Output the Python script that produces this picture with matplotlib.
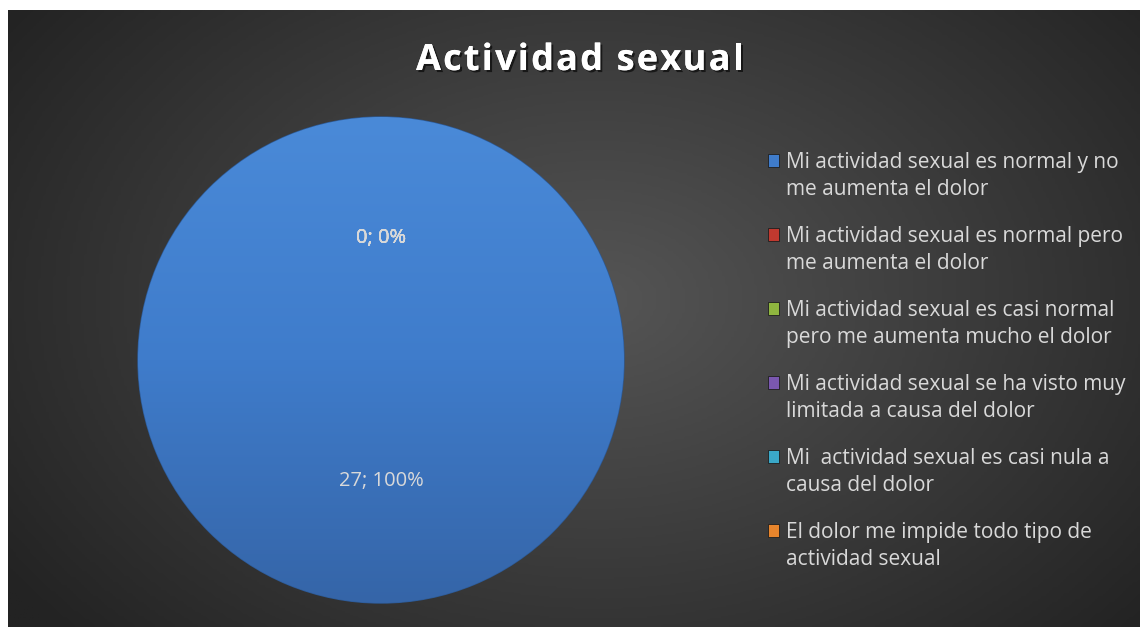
import numpy as np
import matplotlib.pyplot as plt
from matplotlib import patheffects
from matplotlib.patches import Rectangle
from matplotlib.colors import LinearSegmentedColormap

# data
categories = [
    'Mi actividad sexual es normal y no\nme aumenta el dolor',
    'Mi actividad sexual es normal pero\nme aumenta el dolor',
    'Mi actividad sexual es casi normal\npero me aumenta mucho el dolor',
    'Mi actividad sexual se ha visto muy\nlimitada a causa del dolor',
    'Mi  actividad sexual es casi nula a\ncausa del dolor',
    'El dolor me impide todo tipo de\nactividad sexual',
]
counts = [27, 0, 0, 0, 0, 0]
colors = ['#3f7ccb', '#c0392f', '#8fb63f', '#7a57b0', '#3aa8c8', '#e8852c']
title = 'Actividad sexual'

W, H = 1140, 627
plt.rcParams['font.family'] = ['Open Sans', 'DejaVu Sans']
fig = plt.figure(figsize=(W / 100, H / 100), dpi=100)
fig.patch.set_facecolor('white')

# background with radial gradient
bg = fig.add_axes([8 / W, 0, (W - 8) / W, (H - 10) / H])
bg.set_axis_off()
xx, yy = np.meshgrid(np.linspace(0, 1132, 400), np.linspace(0, 617, 220))
d = np.sqrt(((xx - 590) / 720) ** 2 + ((yy - 290) / 500) ** 2)
d = np.clip(d, 0, 1)
bg_cmap = LinearSegmentedColormap.from_list('bg', ['#555555', '#3c3c3c', '#232323'])
bg.imshow(d, cmap=bg_cmap, extent=[0, 1, 0, 1], origin='upper', aspect='auto', vmin=0, vmax=1)
bg.set_xlim(0, 1)
bg.set_ylim(0, 1)

# pie
r = 243
cx, cy = 381, H - 360
ax = fig.add_axes([(cx - r) / W, (cy - r) / H, 2 * r / W, 2 * r / H])
total = sum(counts)


def fmt(pct):
    return f'{int(round(pct * total / 100))}; {pct:.0f}%'


wedges, texts, autotexts = ax.pie(counts, colors=colors, startangle=90, counterclock=False,
                                  autopct=fmt, pctdistance=0.5,
                                  wedgeprops=dict(edgecolor='#2d5a96', linewidth=1.0),
                                  textprops=dict(color='#d9d9d9', fontsize=14.5))
ax.set_xlim(-1, 1)
ax.set_ylim(-1, 1)

# vertical shading on the main wedge
grad = np.linspace(0, 1, 256).reshape(-1, 1)
pie_cmap = LinearSegmentedColormap.from_list('pie', ['#4a8ad8', '#3f7ccb', '#3565a8'])
im = ax.imshow(grad, cmap=pie_cmap, extent=[-1, 1, -1, 1], origin='upper', aspect='auto', zorder=1.5)
im.set_clip_path(wedges[0])
for t in autotexts:
    t.set_zorder(5)

# title, drawn letter by letter to get the wide tracking
renderer = fig.canvas.get_renderer()
title_kw = dict(fontsize=26, fontweight='bold', color='white', va='baseline', ha='left')
track = 2.2


def text_width(s):
    if not s:
        return 0.0
    t = fig.text(0, 0, s, **title_kw)
    w = t.get_window_extent(renderer).width
    t.remove()
    return w


full_w = text_width(title) + track * (len(title) - 1)
x0 = 580 - full_w / 2
shadow = [patheffects.withSimplePatchShadow(offset=(1.5, -1.5), shadow_rgbFace='black', alpha=0.6),
          patheffects.Normal()]
for i, ch in enumerate(title):
    if ch == ' ':
        continue
    xp = x0 + text_width(title[:i]) + track * i
    fig.text(xp / W, 1 - 70 / H, ch, path_effects=shadow, **title_kw)

# legend
lx = 786
ly0 = 167
step = 74
fs = 15
for i, (lab, c) in enumerate(zip(categories, colors)):
    base = ly0 + i * step
    fig.text(lx / W, 1 - (base + 28) / H, lab, ha='left', va='baseline', fontsize=fs,
             color='#d9d9d9', linespacing=28 / (fs * 100 / 72))
    fig.patches.append(Rectangle((768 / W, 1 - base / H), 11 / W, 13 / H, transform=fig.transFigure,
                                 facecolor=c, edgecolor='#1e1e1e', linewidth=0.6))

fig.savefig('out.png', dpi=100)
